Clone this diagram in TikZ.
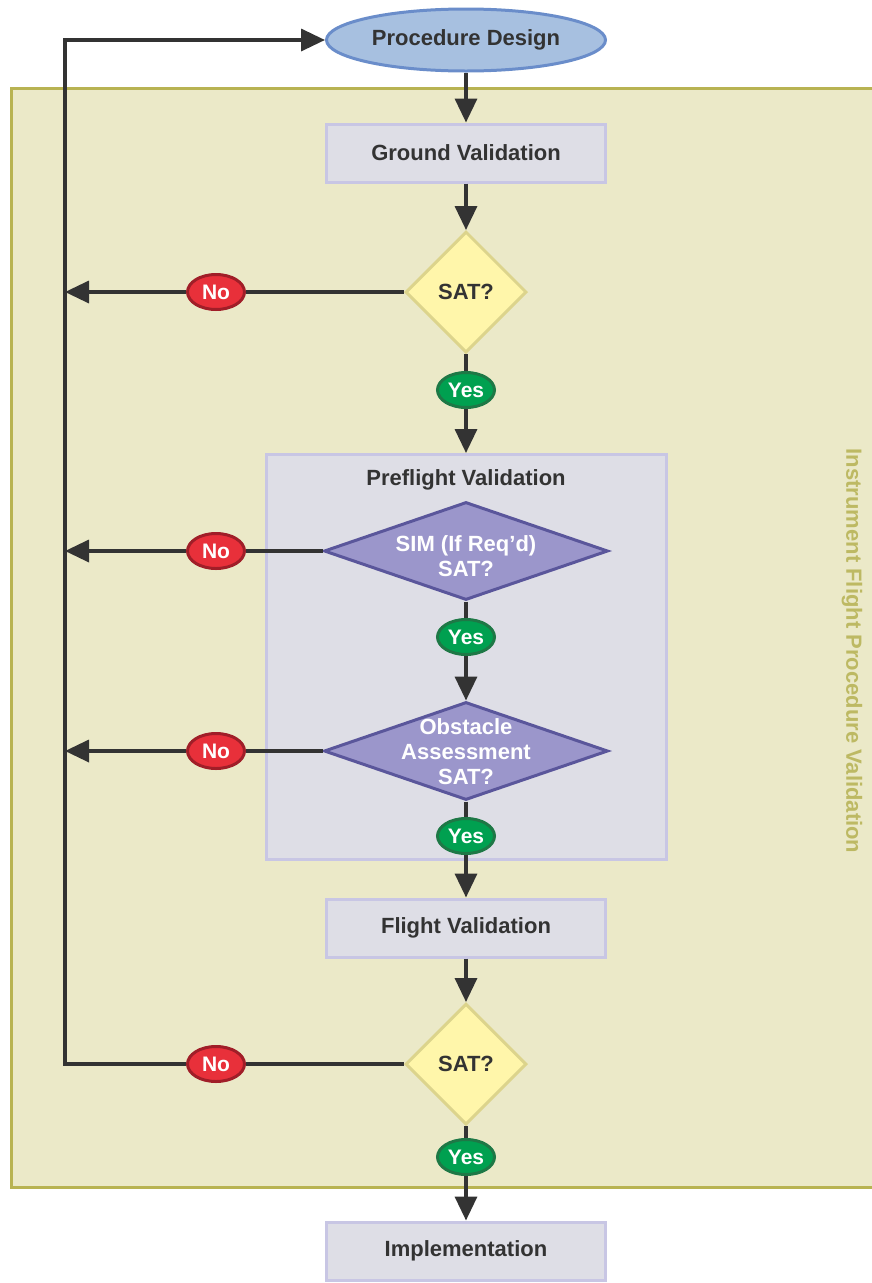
\documentclass[tikz,border=0pt]{standalone}
\usepackage{fontspec}
\setmainfont{Liberation Sans}
\usepackage{tikz}
\usetikzlibrary{shapes.geometric}
\usetikzlibrary{arrows.meta}

\definecolor{panelfill}{HTML}{EBE9C8}
\definecolor{panelline}{HTML}{B8B352}
\definecolor{paneltitle}{HTML}{BDB963}
\definecolor{boxfill}{HTML}{DEDEE6}
\definecolor{boxline}{HTML}{C8C6E4}
\definecolor{designfill}{HTML}{A7C0E0}
\definecolor{designline}{HTML}{6A8DCA}
\definecolor{satfill}{HTML}{FFF6AA}
\definecolor{satline}{HTML}{DCD48C}
\definecolor{simfill}{HTML}{9B96CB}
\definecolor{simline}{HTML}{5A569B}
\definecolor{yesfill}{HTML}{00A050}
\definecolor{yesline}{HTML}{1E7846}
\definecolor{nofill}{HTML}{E8303A}
\definecolor{noline}{HTML}{A01E28}
\definecolor{darkline}{HTML}{333333}

\tikzset{
	every node/.style={font=\fontsize{22}{25}\selectfont\bfseries, text=darkline, align=center},
	panel/.style={draw=panelline, fill=panelfill, line width=3pt},
	paneltext/.style={text=paneltitle},
	groupbox/.style={draw=boxline, fill=boxfill, line width=3pt, minimum width=400pt, minimum height=405pt},
	procbox/.style={draw=boxline, fill=boxfill, line width=3pt, minimum width=279pt, minimum height=58pt},
	startoval/.style={ellipse, draw=designline, fill=designfill, line width=3pt, minimum width=279pt, minimum height=62pt, inner sep=0pt},
	satdiamond/.style={diamond, draw=satline, fill=satfill, line width=3pt, minimum width=121pt, minimum height=121pt, inner sep=0pt},
	simdiamond/.style={diamond, draw=simline, fill=simfill, line width=3pt, minimum width=284pt, minimum height=98pt, inner sep=0pt},
	diamondtext/.style={text=white},
	yesoval/.style={ellipse, draw=yesline, fill=yesfill, line width=3pt, minimum width=57pt, minimum height=35pt, inner sep=0pt, text=white, font=\fontsize{21}{25}\selectfont\bfseries},
	nooval/.style={ellipse, draw=noline, fill=nofill, line width=3pt, minimum width=57pt, minimum height=35pt, inner sep=0pt, text=white, font=\fontsize{21}{25}\selectfont\bfseries},
	flow/.style={draw=darkline, line width=3.5pt},
	>={Triangle[length=24pt,width=22pt]}
}

\begin{document}
\begin{tikzpicture}[x=1pt,y=-1pt]
	\useasboundingbox (0,0) rectangle (872,1283);
	% background panel and group
	\draw[panel] (11,88) rectangle (890,1187);
	\node[paneltext, rotate=-90] (ifpv) at (852,651) {Instrument Flight Procedure Validation};
	\node[groupbox] (pre) at (466,657) {};
	\node (pretitle) at (466,480) {Preflight Validation};

	% main column
	\node[startoval] (design) at (466,40) {Procedure Design};
	\node[procbox] (ground) at (466,153) {Ground Validation};
	\node[satdiamond] (sat1) at (466,292) {SAT?};
	\node[yesoval] (yes1) at (466,390) {Yes};
	\node[simdiamond, label={[diamondtext, yshift=-5pt]center:{SIM (If Req’d)\\SAT?}}] (sim) at (466,551) {};
	\node[yesoval] (yes2) at (466,637) {Yes};
	\node[simdiamond, label={[diamondtext, yshift=-1pt]center:{Obstacle\\Assessment\\SAT?}}] (obs) at (466,751) {};
	\node[yesoval] (yes3) at (466,836) {Yes};
	\node[procbox] (flight) at (466,928) {Flight Validation};
	\node[satdiamond] (sat2) at (466,1064) {SAT?};
	\node[yesoval] (yes4) at (466,1157) {Yes};
	\node[procbox] (impl) at (466,1251) {Implementation};

	% no branches
	\node[nooval] (no1) at (216,292) {No};
	\node[nooval] (no2) at (216,551) {No};
	\node[nooval] (no3) at (216,751) {No};
	\node[nooval] (no4) at (216,1064) {No};
	\coordinate (spine) at (65,1064);

	\draw[flow,->] (design) -- (ground);
	\draw[flow,->] (ground) -- (sat1);
	\draw[flow] (sat1) -- (yes1);
	\draw[flow,->] (yes1) -- (pre.north);
	\draw[flow] (sim) -- (yes2);
	\draw[flow,->] (yes2) -- (obs);
	\draw[flow] (obs) -- (yes3);
	\draw[flow,->] (yes3) -- (flight);
	\draw[flow,->] (flight) -- (sat2);
	\draw[flow] (sat2) -- (yes4);
	\draw[flow,->] (yes4) -- (impl);

	\draw[flow] (sat1.west) -- (no1);
	\draw[flow,->] (no1) -- (no1 -| spine);
	\draw[flow] (sim.west) -- (no2);
	\draw[flow,->] (no2) -- (no2 -| spine);
	\draw[flow] (obs.west) -- (no3);
	\draw[flow,->] (no3) -- (no3 -| spine);
	\draw[flow] (sat2.west) -- (no4);
	\draw[flow,->] (no4) -- (spine) |- (design.west);
\end{tikzpicture}
\end{document}
